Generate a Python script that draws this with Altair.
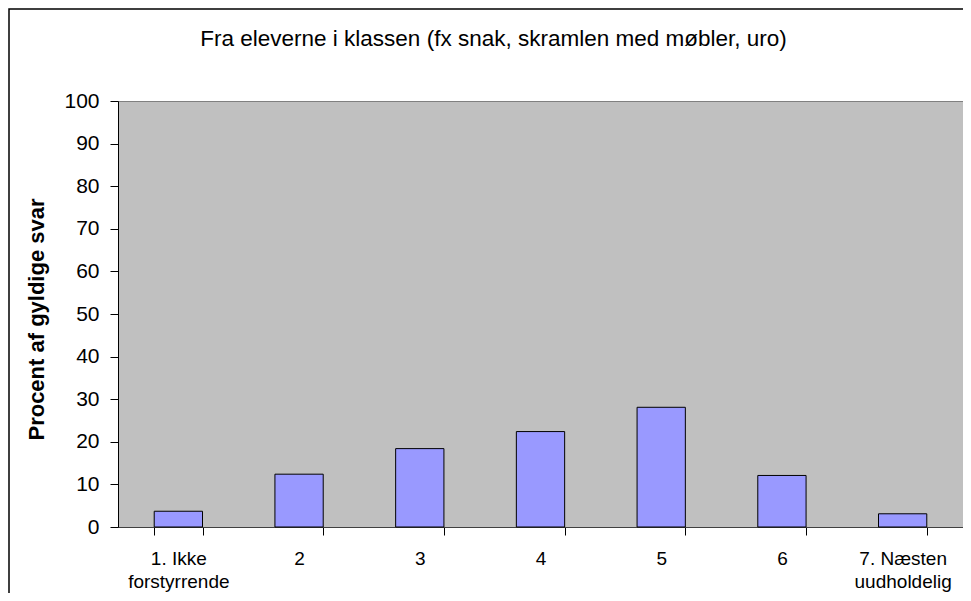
import altair as alt
import pandas as pd

categories = ["1. Ikke\nforstyrrende", "2", "3", "4", "5", "6", "7. Næsten\nuudholdelig"]
values = [3.7, 12.4, 18.4, 22.4, 28.1, 12.1, 3.1]
y_ticks = list(range(0, 101, 10))
title_text = "Fra eleverne i klassen (fx snak, skramlen med møbler, uro)"
y_title = "Procent af gyldige svar"

df = pd.DataFrame({"kategori": categories, "procent": values})

W, H = 845, 426
FONT = "Liberation Sans"

bars = alt.Chart(df).mark_bar(color="#9999FF", stroke="black", strokeWidth=1).encode(
    x=alt.X(
        "kategori:N",
        sort=categories,
        title=None,
        scale=alt.Scale(paddingInner=0.6, paddingOuter=0.3),
        axis=alt.Axis(
            labelAngle=0,
            tickBand="extent",
            tickSize=8,
            tickColor="black",
            domainColor="#404040",
            labelFontSize=19,
            labelLineHeight=23,
            labelPadding=14,
            labelColor="black",
            labelExpr="split(datum.label, '\\n')",
        ),
    ),
    y=alt.Y(
        "procent:Q",
        title=y_title,
        scale=alt.Scale(domain=[0, 100]),
        axis=alt.Axis(
            values=y_ticks,
            grid=False,
            tickSize=8,
            tickColor="black",
            domainColor="black",
            labelFontSize=21,
            labelPadding=11,
            labelColor="black",
            titleFontSize=22,
            titleFontWeight="bold",
            titleColor="black",
            titleAngle=-90,
            titleAlign="center",
            titleBaseline="alphabetic",
            titleX=-75,
            titleY=H / 2 + 5,
        ),
    ),
)

frame = alt.Chart(pd.DataFrame({"f": [0]})).mark_rect(
    fillOpacity=0, stroke="black", strokeWidth=1.5
).encode(
    x=alt.value(-109),
    x2=alt.value(W + 60),
    y=alt.value(-92),
    y2=alt.value(H + 150),
)

title = alt.Chart(pd.DataFrame({"t": [title_text]})).mark_text(
    fontSize=22.5, font=FONT, color="black", align="center", baseline="alphabetic"
).encode(
    text="t:N",
    x=alt.value(W / 2 - 47),
    y=alt.value(-55),
)

chart = alt.layer(bars, frame, title).properties(
    width=W,
    height=H,
    autosize=alt.AutoSizeParams(type="none"),
    padding={"left": 110, "top": 93, "right": 0, "bottom": 66},
).configure(font=FONT, background="white").configure_view(fill="#C0C0C0", stroke="#808080")

chart.save("out.html", embed_options={"renderer": "svg", "actions": False})
